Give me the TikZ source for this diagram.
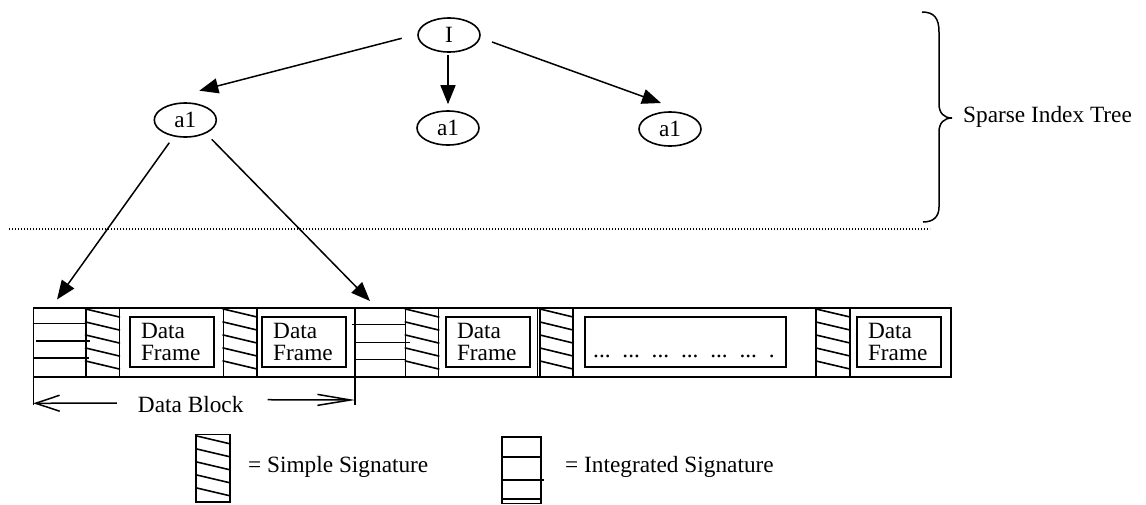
\documentclass[tikz,border=0pt]{standalone}
\usepackage{fontspec}
\setmainfont{Liberation Serif}
\usetikzlibrary{arrows.meta,shapes.geometric,calc}
\newcommand\figfont{\fontsize{23.3}{21.4}\selectfont}
% diagonal hatch lines of a simple signature: x0, x1, top y
\newcommand\SigLines[3]{%
  \foreach \k in {0,...,4}{\draw[ln] (#1,#3+1.3+13*\k) -- (#2,#3+9.3+13*\k);}%
}
\tikzset{
  ln/.style={line width=1.6pt, line cap=rect},
  tnode/.style={ellipse, draw, line width=1.6pt, minimum width=62pt, minimum height=34pt, inner sep=0pt, font=\figfont},
  arr/.style={line width=1.5pt, -{Triangle[length=19pt,width=15pt]}},
  frame/.style={draw, line width=1.6pt, minimum width=84pt, minimum height=50pt, inner sep=0pt, text width=62pt, align=left, font=\figfont},
  txt/.style={inner sep=0pt, font=\figfont},
  openl/.style={line width=1.5pt, -{Straight Barb[length=24pt,width=16pt,line width=1.5pt]}},
  openr/.style={line width=1.5pt, -{Straight Barb[length=33pt,width=11pt,line width=1.5pt]}},
}
\begin{document}
\begin{tikzpicture}[x=1pt,y=-1pt]
\useasboundingbox[fill=white] (0,0) rectangle (1146,504);

% ---------- tree ----------
\node[tnode] (I)   at (449,35)    {I};
\node[tnode] (a1L) at (185.3,120) {a1};
\node[tnode] (a1M) at (448,128)   {a1};
\node[tnode] (a1R) at (670,129)   {a1};

\draw[arr] ($(I.center)+(-47.3,3.3)$) -- ($(a1L.center)+(14,-29.3)$);
\draw[arr] ($(I.south)+(-1,2)$) -- ($(a1M.north)+(0,-6)$);
\draw[arr] ($(I.center)+(43,7)$) -- ($(a1R.center)+(-9,-26)$);

\coordinate (tipL) at (57,299.5);
\coordinate (tipR) at (370,301);
\draw[arr] ($(a1L.center)+(-16,22.7)$) -- (tipL);
\draw[arr] ($(a1L.center)+(26.4,19.3)$) -- (tipR);

% separator
\draw[line width=1.1pt, dash pattern=on 1.2pt off 1.8pt] (9,229) -- (930,229);

% brace
\draw[line width=1.5pt] (922,12) .. controls (934,12) and (939,18) .. (939,32)
  -- (939,104) .. controls (939,113) and (944,118) .. (952,118)
  .. controls (944,118) and (939,123) .. (939,132)
  -- (939,207) .. controls (939,217) and (933,222) .. (923,222);
\node[txt, anchor=base west] (SIT) at (963,122.5) {Sparse Index Tree};

% ---------- data row ----------
\draw[ln] (33.3,307.7) rectangle (951,376.7);
\foreach \xx in {85.7,119.3,223.3,257,355,405.5,438.6,537.3,540,573,816,850}
  {\draw[ln] (\xx,307.7) -- (\xx,376.7);}

% integrated signatures
\draw[ln] (33.3,323.3) -- (85.7,323.3);
\draw[ln] (36.7,341) -- (89.3,341);
\draw[ln] (33.3,357.7) -- (87.7,357.7);
\draw[ln] (352.7,324.3) -- (405.5,324.3);
\draw[ln] (355,342.3) -- (409,342.3);
\draw[ln] (355,359.3) -- (405.5,359.3);

% simple signatures
\SigLines{85.7}{119.3}{307.7}
\SigLines{223.3}{257}{307.7}
\SigLines{405.5}{438.6}{307.7}
\SigLines{540}{573}{307.7}
\SigLines{816}{850}{307.7}

% data frames
\node[frame] (F1) at (172,342)   {Data\\Frame};
\node[frame] (F2) at (304.2,342) {Data\\Frame};
\node[frame] (F3) at (488,342)   {Data\\Frame};
\node[frame, minimum width=201pt, text width=180pt] (DD) at (685.5,342) {};
\node[txt, anchor=base west] (dots) at (593,357.5)
  {...\hspace{11.8pt}...\hspace{11.8pt}...\hspace{11.8pt}...\hspace{11.8pt}...\hspace{11.8pt}...\hspace{11.8pt}.};
\node[frame] (F4) at (899,342)   {Data\\Frame};

% data block marker
\coordinate (DBL) at (33.3,403.3);
\coordinate (DBR) at (355,400);
\draw[ln] (33.3,376.7) -- (33.3,404);
\draw[ln] (355,376.7) -- (355,404);
\node[txt, anchor=base] (DB) at (190.7,412.7) {Data Block};
\draw[openl] ($(DB.west)+(-21,-1.7)$) -- (DBL);
\draw[openr] ($(DB.east)+(24,-5)$) -- (DBR);

% ---------- legend ----------
\draw[ln] (196,434.5) rectangle (230,502);
\SigLines{196}{230}{434.5}
\node[txt, anchor=base west] (LS) at (248,472.5) {= Simple Signature};

\draw[ln] (501.7,437) rectangle (540.7,503.3);
\draw[ln] (501.7,457) -- (540.7,457);
\draw[ln] (501.7,480) -- (543,480);
\draw[ln] (501.7,499) -- (540.7,499);
\node[txt, anchor=base west] (LI) at (565,472.5) {= Integrated Signature};
\end{tikzpicture}
\end{document}
